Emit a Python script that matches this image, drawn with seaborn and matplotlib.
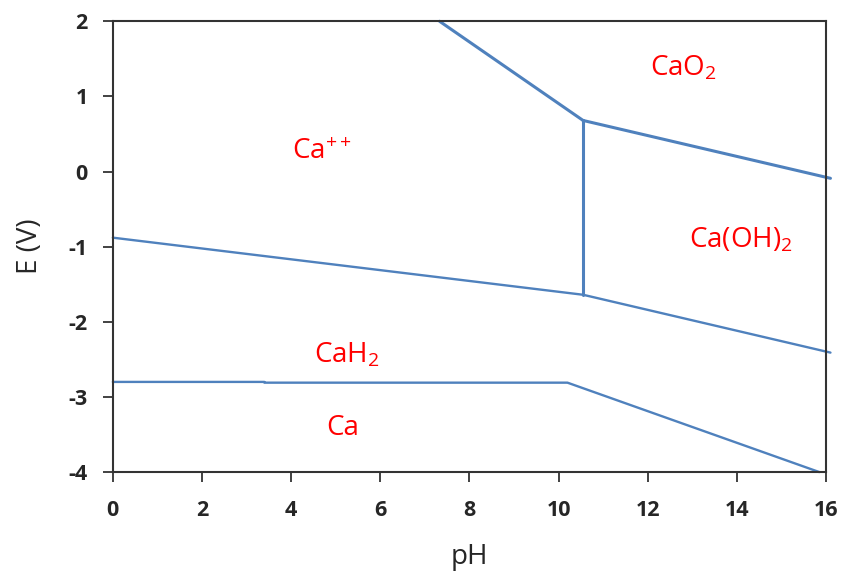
import numpy as np
import pandas as pd
import matplotlib
matplotlib.use("Agg")
import matplotlib.pyplot as plt
import seaborn as sns

# boundary lines of the Pourbaix diagram (pH, E in V)
ca_cao2_ph = [7.33, 10.55]
ca_cao2_e = [2.0, 0.68]

caoh2_cao2_ph = [10.55, 16.1]
caoh2_cao2_e = [0.68, -0.09]

ca_caoh2_ph = [10.55, 10.55]
ca_caoh2_e = [0.68, -1.64]

h2_ph = [0.0, 10.55, 16.1]
h2_e = [-0.88, -1.64, -2.41]

ca_cah2_ph = [0.0, 3.4, 3.4, 10.2, 15.85]
ca_cah2_e = [-2.80, -2.80, -2.81, -2.81, -4.0]

# region labels
region_names = ["CaO$_2$", "Ca$^{++}$", "Ca(OH)$_2$", "CaH$_2$", "Ca"]
region_ph = [12.8, 4.7, 14.1, 5.25, 5.15]
region_e = [1.37, 0.26, -0.91, -2.44, -3.41]

sns.set_theme(style="white")
plt.rcParams['font.family'] = ['Open Sans', 'DejaVu Sans']
plt.rcParams['axes.unicode_minus'] = False
plt.rcParams['mathtext.fontset'] = 'custom'
plt.rcParams['mathtext.rm'] = 'Open Sans'
plt.rcParams['mathtext.it'] = 'Open Sans'
plt.rcParams['mathtext.default'] = 'rm'

fig = plt.figure(figsize=(8.42, 5.75), dpi=100)
ax = fig.add_axes([0.134, 0.179, 0.847, 0.784])

BLUE = "#4F81BD"
lines = [(ca_cao2_ph, ca_cao2_e, 2.2),
         (caoh2_cao2_ph, caoh2_cao2_e, 2.2),
         (ca_caoh2_ph, ca_caoh2_e, 2.2),
         (h2_ph, h2_e, 1.7),
         (ca_cah2_ph, ca_cah2_e, 1.7)]
for xs, ys, lw in lines:
    df = pd.DataFrame({"pH": xs, "E": ys})
    sns.lineplot(data=df, x="pH", y="E", sort=False, estimator=None,
                 color=BLUE, linewidth=lw, ax=ax, clip_on=False)

for name, x, y in zip(region_names, region_ph, region_e):
    ax.text(x, y, name, color="red", fontsize=20, ha="center", va="center")

ax.set_xlim(0, 16)
ax.set_ylim(-4, 2)
ax.set_xticks(np.arange(0, 17, 2))
ax.set_yticks(np.arange(-4, 3, 1))
ax.set_xlabel("pH", fontsize=20, labelpad=16)
ax.set_ylabel("E (V)", fontsize=20, labelpad=18)
ax.tick_params(axis="both", direction="out", length=7, width=1.3, color="#333333",
               labelsize=15.5, bottom=True, left=True)
ax.tick_params(axis="x", pad=13)
ax.tick_params(axis="y", pad=11)
for lab in ax.get_xticklabels() + ax.get_yticklabels():
    lab.set_fontweight("bold")
for sp in ax.spines.values():
    sp.set_color("#333333")
    sp.set_linewidth(1.5)

fig.savefig("out.png", dpi=100)
